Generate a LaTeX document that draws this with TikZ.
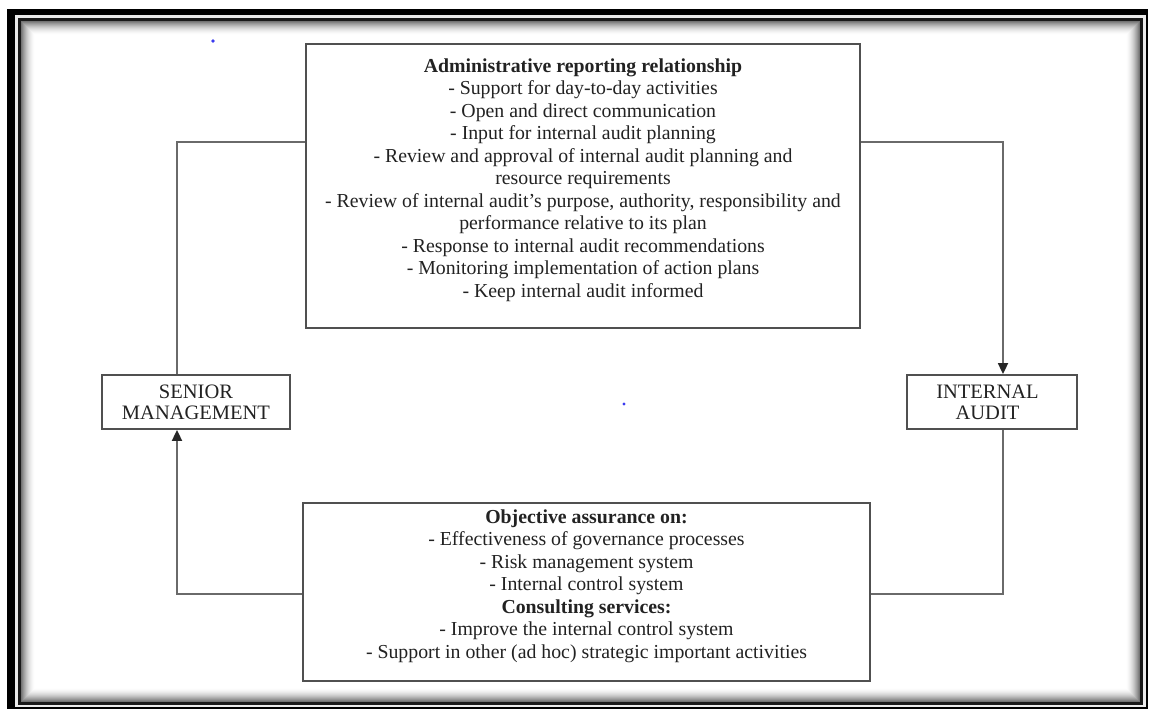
\documentclass[tikz,border=0pt]{standalone}
\usepackage{fontspec}
\setmainfont{Liberation Serif}
\usetikzlibrary{arrows.meta}
\definecolor{linegray}{HTML}{6A6A6A}
\definecolor{boxgray}{HTML}{505050}
\definecolor{txt}{HTML}{222222}
\definecolor{dotblue}{HTML}{3A3AF0}
\begin{document}
\begin{tikzpicture}[x=1pt,y=-1pt,
  box/.style={draw=boxgray,line width=1.8pt,inner sep=0pt,fill=white},
  txtstyle/.style={font=\fontsize{19.8}{22.5}\selectfont,align=center,text=txt,inner sep=0pt},
  smalltxt/.style={txtstyle,font=\fontsize{20.5}{21.5}\selectfont},
  conn/.style={draw=linegray,line width=1.8pt},
  tip/.style={-{Triangle[length=11pt,width=10pt,color=black!85]}}
]
\useasboundingbox (0,0) rectangle (1149,711);
% frame
\fill[white] (0,0) rectangle (1149,711);
\fill[black] (7,9) rectangle (1147.5,708.5);
\fill[white!92!black] (14.5,15.5) rectangle (1145.5,706.5);
\fill[black!90] (17.5,18.5) rectangle (1143,704.5);
\foreach \i in {0,...,13}{
  \pgfmathsetmacro{\pc}{55*(1-\i/14)^1.8}
  \fill[black!\pc!white] (20.5+\i,21.5+\i) rectangle (1140-\i,701.5-\i);
}
\fill[white] (34.5,35.5) rectangle (1126,687.5);
% blue dots
\fill[dotblue] (213,41) circle (1.8);
\fill[dotblue] (624,404) circle (1.6);
% boxes
\node[box,minimum width=554pt,minimum height=284pt] (top) at (583,186) {};
\node[txtstyle] (toptext) at (583,180) {\textbf{Administrative reporting relationship}\\
- Support for day-to-day activities\\
- Open and direct communication\\
- Input for internal audit planning\\
- Review and approval of internal audit planning and\\
resource requirements\\
- Review of internal audit’s purpose, authority, responsibility and\\
performance relative to its plan\\
- Response to internal audit recommendations\\
- Monitoring implementation of action plans\\
- Keep internal audit informed};
\node[box,minimum width=567pt,minimum height=178pt] (bot) at (586.5,592) {};
\node[txtstyle] (bottext) at (586.5,586) {\textbf{Objective assurance on:}\\
- Effectiveness of governance processes\\
- Risk management system\\
- Internal control system\\
\textbf{Consulting services:}\\
- Improve the internal control system\\
- Support in other (ad hoc) strategic important activities};
\node[box,minimum width=188pt,minimum height=54pt] (sm) at (196,402) {};
\node[smalltxt] (smtext) at (196,402.5) {SENIOR\\MANAGEMENT};
\node[box,minimum width=170pt,minimum height=54pt] (ia) at (992,402) {};
\node[smalltxt] (iatext) at (987.5,402.5) {INTERNAL\\AUDIT};
% connectors
\draw[conn] (sm.north -| 177,0) |- (top.west |- 0,142);
\draw[conn,tip] (top.east |- 0,142) -| (ia.north -| 1003,0);
\draw[conn] (ia.south -| 1003,0) |- (bot.east |- 0,594);
\draw[conn,tip] (bot.west |- 0,594) -| (sm.south -| 177,0);
\end{tikzpicture}
\end{document}
